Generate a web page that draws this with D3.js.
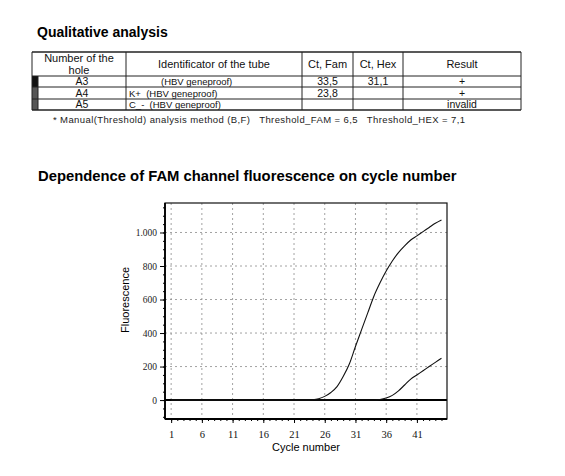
<!DOCTYPE html>
<html>
<head>
<meta charset="utf-8">
<script src="https://cdn.jsdelivr.net/npm/d3@7"></script>
<style>
  body { margin: 0; background: #fff; }
  svg { font-family: "Liberation Sans", Arial, sans-serif; }
  .grid line { stroke: #8a8a8a; stroke-dasharray: 2,3; stroke-width: 0.8; }
</style>
</head>
<body>
<div id="chart"></div>
<script>
// Table data
var holes = ["A3", "A4", "A5"];
var tubeNames = ["(HBV geneproof)", "K+  (HBV geneproof)", "C_-  (HBV geneproof)"];
var ctFam = ["33,5", "23,8", ""];
var ctHex = ["31,1", "", ""];
var results = ["+", "+", "invalid"];
var markerColors = ["#111", "#555", "#555"];

// Curve data (FAM fluorescence per cycle 1..45)
var cycles = d3.range(1, 46);
var famA4 = [0,0,0,0,0,0,0,0,0,0,0,0,0,0,0,0,0,0,0,0,0,0,0,
  2,8,22,45,80,140,215,320,420,520,620,700,770,830,880,920,955,980,1005,1030,1055,1075];
var famA3 = [0,0,0,0,0,0,0,0,0,0,0,0,0,0,0,0,0,0,0,0,0,0,0,0,0,0,0,0,0,0,0,0,0,0,
  3,12,28,55,90,125,150,175,200,225,250];
var xTicks = [1, 6, 11, 16, 21, 26, 31, 36, 41];
var yTicks = [0, 200, 400, 600, 800, 1000];

var width = 565, height = 476;

var svg = d3.select("#chart").append("svg")
  .attr("width", width)
  .attr("height", height);

// ---- Qualitative analysis table ----
svg.append("text")
  .attr("x", 37).attr("y", 37)
  .attr("font-size", 14).attr("font-weight", "bold")
  .text("Qualitative analysis");

var cols = [32, 126, 302, 353, 403, 521];  // column borders
var rowsY = [52, 76, 87, 99, 110];          // row borders
var markerX = 38;

var table = svg.append("g").attr("font-size", 10.5).attr("fill", "#111");

// marker cells
table.selectAll("rect.marker")
  .data(holes)
  .enter().append("rect")
    .attr("class", "marker")
    .attr("x", cols[0])
    .attr("y", function(d, i) { return rowsY[i + 1]; })
    .attr("width", markerX - cols[0])
    .attr("height", function(d, i) { return rowsY[i + 2] - rowsY[i + 1]; })
    .attr("fill", function(d, i) { return markerColors[i]; });

// horizontal lines
table.selectAll("line.h")
  .data(rowsY)
  .enter().append("line")
    .attr("x1", cols[0]).attr("x2", cols[5])
    .attr("y1", function(d) { return d; }).attr("y2", function(d) { return d; })
    .attr("stroke", "#222").attr("stroke-width", function(d, i) { return i == 0 || i == 4 ? 1.3 : 1; });

// vertical lines
table.selectAll("line.v")
  .data(cols)
  .enter().append("line")
    .attr("x1", function(d) { return d; }).attr("x2", function(d) { return d; })
    .attr("y1", rowsY[0]).attr("y2", rowsY[4])
    .attr("stroke", "#222").attr("stroke-width", 1);

table.append("line")
  .attr("x1", markerX).attr("x2", markerX)
  .attr("y1", rowsY[1]).attr("y2", rowsY[4])
  .attr("stroke", "#222");

// header
var headers = ["Identificator of the tube", "Ct, Fam", "Ct, Hex", "Result"];
table.append("text")
  .attr("x", (cols[0] + cols[1]) / 2).attr("y", 62)
  .attr("text-anchor", "middle").attr("font-size", 11)
  .text("Number of the");
table.append("text")
  .attr("x", (cols[0] + cols[1]) / 2).attr("y", 74)
  .attr("text-anchor", "middle").attr("font-size", 11)
  .text("hole");
table.selectAll("text.head")
  .data(headers)
  .enter().append("text")
    .attr("x", function(d, i) { return (cols[i + 1] + cols[i + 2]) / 2; })
    .attr("y", 68)
    .attr("text-anchor", "middle").attr("font-size", 11)
    .text(function(d) { return d; });

// body cells
var rows = table.selectAll("g.row")
  .data(holes)
  .enter().append("g")
    .attr("transform", function(d, i) { return "translate(0," + (rowsY[i + 2] - 2.5) + ")"; });

rows.append("text")
  .attr("x", (markerX + cols[1]) / 2).attr("text-anchor", "middle")
  .text(function(d) { return d; });
rows.append("text")
  .attr("x", function(d, i) { return i == 0 ? 161 : cols[1] + 3; })
  .attr("font-size", 9.5)
  .attr("xml:space", "preserve")
  .text(function(d, i) { return tubeNames[i]; });
rows.append("text")
  .attr("x", (cols[2] + cols[3]) / 2).attr("text-anchor", "middle")
  .text(function(d, i) { return ctFam[i]; });
rows.append("text")
  .attr("x", (cols[3] + cols[4]) / 2).attr("text-anchor", "middle")
  .text(function(d, i) { return ctHex[i]; });
rows.append("text")
  .attr("x", (cols[4] + cols[5]) / 2).attr("text-anchor", "middle")
  .text(function(d, i) { return results[i]; });

svg.append("text")
  .attr("x", 53).attr("y", 123)
  .attr("font-size", 9.5).attr("fill", "#222")
  .attr("xml:space", "preserve")
  .attr("textLength", 412).attr("lengthAdjust", "spacing")
  .text("* Manual(Threshold) analysis method (B,F)   Threshold_FAM = 6,5   Threshold_HEX = 7,1");

// ---- FAM fluorescence chart ----
svg.append("text")
  .attr("x", 38).attr("y", 181)
  .attr("font-size", 14.8).attr("font-weight", "bold")
  .text("Dependence of FAM channel fluorescence on cycle number");

var plot = { left: 165, right: 447, top: 203, bottom: 419 };

var x = d3.scaleLinear()
  .domain([0, 45.9])
  .range([plot.left, plot.right]);

var y = d3.scaleLinear()
  .domain([-113, 1176])
  .range([plot.bottom, plot.top]);

// grid
var grid = svg.append("g").attr("class", "grid");
grid.selectAll("line.gx")
  .data(xTicks)
  .enter().append("line")
    .attr("x1", function(d) { return x(d); }).attr("x2", function(d) { return x(d); })
    .attr("y1", plot.top).attr("y2", plot.bottom);
grid.selectAll("line.gy")
  .data(yTicks.slice(1))
  .enter().append("line")
    .attr("x1", plot.left).attr("x2", plot.right)
    .attr("y1", function(d) { return y(d); }).attr("y2", function(d) { return y(d); });

// zero line (invalid sample trace)
svg.append("line")
  .attr("x1", plot.left).attr("x2", plot.right)
  .attr("y1", y(0)).attr("y2", y(0))
  .attr("stroke", "#000").attr("stroke-width", 2);

// curves
var line = d3.line()
  .x(function(d, i) { return x(cycles[i]); })
  .y(function(d) { return y(d); })
  .curve(d3.curveMonotoneX);

svg.selectAll("path.curve")
  .data([famA4, famA3])
  .enter().append("path")
    .attr("class", "curve")
    .attr("d", line)
    .attr("fill", "none")
    .attr("stroke", "#111")
    .attr("stroke-width", 1.1);

// frame
svg.append("rect")
  .attr("x", plot.left).attr("y", plot.top)
  .attr("width", plot.right - plot.left).attr("height", plot.bottom - plot.top)
  .attr("fill", "none").attr("stroke", "#111").attr("stroke-width", 1.2);
svg.append("line")
  .attr("x1", plot.left).attr("x2", plot.right)
  .attr("y1", plot.bottom).attr("y2", plot.bottom)
  .attr("stroke", "#000").attr("stroke-width", 2.2);
svg.append("line")
  .attr("x1", plot.left).attr("x2", plot.left)
  .attr("y1", plot.top).attr("y2", plot.bottom)
  .attr("stroke", "#000").attr("stroke-width", 1.8);

// y axis
var yAxis = d3.axisLeft(y)
  .tickValues(yTicks)
  .tickSize(5)
  .tickFormat(function(d) { return d == 1000 ? "1.000" : d; });
var yMinor = d3.axisLeft(y)
  .tickValues(d3.range(-100, 1176, 50))
  .tickSize(2)
  .tickFormat("");

svg.append("g")
  .attr("transform", "translate(" + plot.left + ",0)")
  .call(yMinor)
  .call(function(g) { g.select(".domain").remove(); });
svg.append("g")
  .attr("transform", "translate(" + plot.left + ",0)")
  .call(yAxis)
  .call(function(g) { g.select(".domain").remove(); })
  .selectAll("text")
    .attr("font-family", "'Liberation Serif', serif")
    .attr("font-size", 9.5)
    .attr("fill", "#222");

// x axis
var xAxis = d3.axisBottom(x)
  .tickValues(xTicks)
  .tickSize(4)
  .tickPadding(8);
var xMinor = d3.axisBottom(x)
  .tickValues(cycles)
  .tickSize(2)
  .tickFormat("");

svg.append("g")
  .attr("transform", "translate(0," + plot.bottom + ")")
  .call(xMinor)
  .call(function(g) { g.select(".domain").remove(); });
svg.append("g")
  .attr("transform", "translate(0," + plot.bottom + ")")
  .call(xAxis)
  .call(function(g) { g.select(".domain").remove(); })
  .selectAll("text")
    .attr("font-family", "'Liberation Serif', serif")
    .attr("font-size", 10.5)
    .attr("fill", "#111");

// axis titles
svg.append("text")
  .attr("x", 306).attr("y", 451)
  .attr("text-anchor", "middle").attr("font-size", 11)
  .text("Cycle number");
svg.append("text")
  .attr("transform", "translate(129,300) rotate(-90)")
  .attr("text-anchor", "middle").attr("font-size", 11)
  .text("Fluorescence");
</script>
</body>
</html>
